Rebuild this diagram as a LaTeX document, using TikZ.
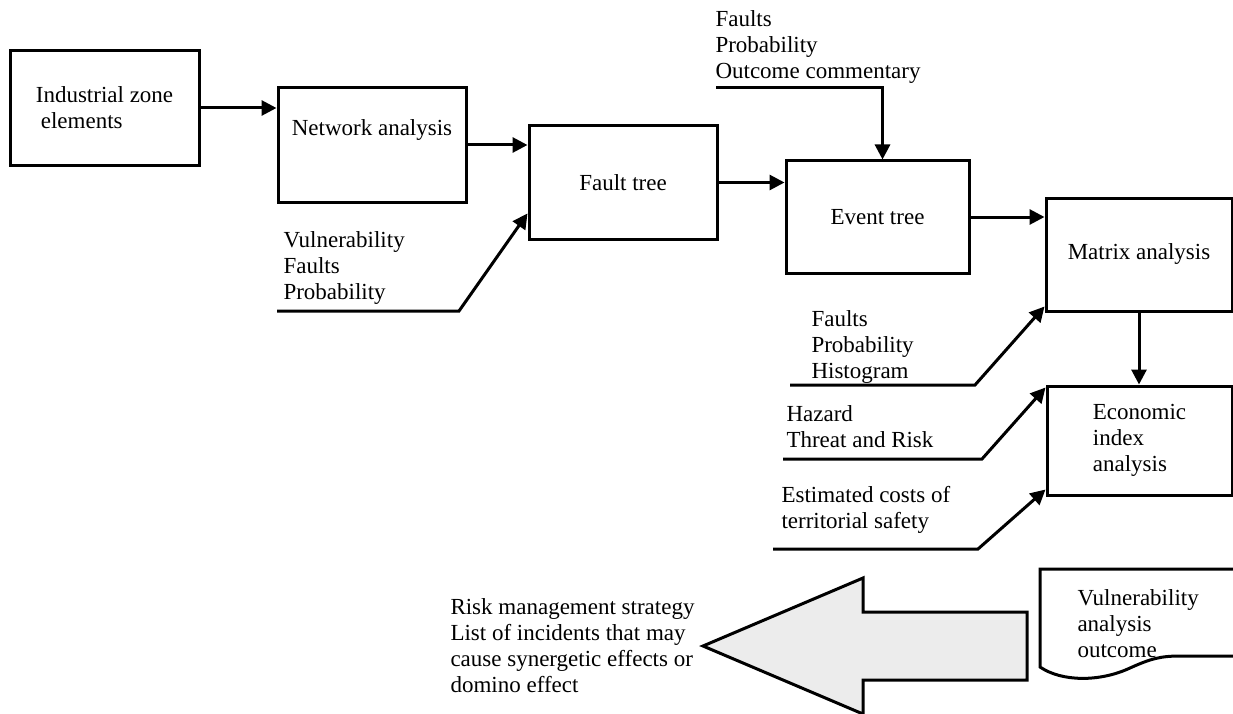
\documentclass[tikz,border=0pt]{standalone}
\usepackage{fontspec}
\setmainfont{Liberation Serif}
\usetikzlibrary{arrows.meta,positioning,calc}

\begin{document}
\begin{tikzpicture}[x=1pt, y=-1pt, ->, >={Triangle[length=15pt,width=15pt]}, line width=3pt,
                    font=\fontsize{23}{26}\selectfont]
\tikzstyle{box}=[draw=black, fill=white, inner sep=0pt]
\tikzstyle{txt}=[align=left, inner sep=0pt, anchor=west]
\useasboundingbox (0,0) rectangle (1233,714);

% main chain
\node[box, minimum width=189pt, minimum height=115pt, align=left] (ind)    at (104.5,108) {Industrial zone\\\hspace*{5pt}elements};
\node[box, minimum width=188pt, minimum height=114pt,
      label={[anchor=center, yshift=-44pt]north:Network analysis}] (net) at (372,145) {};
\node[box, minimum width=188pt, minimum height=113pt] (fault)  at (623,182.5)  {Fault tree};
\node[box, minimum width=183pt, minimum height=112pt] (event)  at (877.5,217)  {Event tree};
\node[box, minimum width=186pt, minimum height=113pt] (matrix) at (1139,254.5) {Matrix analysis};
\node[box, minimum width=185pt, minimum height=109pt, align=left] (econ) at (1139.5,440.5) {Economic\\index\\analysis};
\path
(ind.east)    edge (ind.east -| net.west)
(net.east)    edge (net.east -| fault.west)
(fault.east)  edge (fault.east -| event.west)
(event.east)  edge (event.east -| matrix.west)
(matrix.south) edge (matrix.south |- econ.north);

% inputs
\node[txt] (outc) at (714,47) {Faults\\Probability\\Outcome commentary};
\coordinate (o0) at (716,88);
\draw (o0) -| ([xshift=5pt]event.north);

\node[txt] (vfp) at (282,268) {Vulnerability\\Faults\\Probability};
\coordinate (v0) at (277,311);
\coordinate (v1) at (459,311);
\draw (v0) -- (v1) -- ([yshift=-31pt]fault.west);

\node[txt] (fph) at (810,347) {Faults\\Probability\\Histogram};
\coordinate (f0) at (790,385);
\coordinate (f1) at (975,385);
\draw (f0) -- (f1) -- ([yshift=6pt]matrix.south west);

\node[txt] (htr) at (785,427) {Hazard\\Threat and Risk};
\coordinate (h0) at (783,459);
\coordinate (h1) at (982,459);
\draw (h0) -- (h1) -- ([yshift=-3pt]econ.north west);

\node[txt] (est) at (780,510) {Estimated costs of\\territorial safety};
\coordinate (e0) at (773,549);
\coordinate (e1) at (978,549);
\draw (e0) -- (e1) -- ([yshift=7pt]econ.south west);

% output
\draw[-, fill=gray!15] (703,646) -- (863,578) -- (863,612) -- (1027,612) -- (1027,680)
      -- (863,680) -- (863,714) -- cycle;
\node[txt] (risk) at (449,646) {Risk management strategy\\List of incidents that may\\cause synergetic effects or\\domino effect};

\draw[-] (1240,569) -- (1040,569) -- (1040,667) .. controls (1062,682) and (1100,682) .. (1130,668)
      .. controls (1150,659) and (1160,656) .. (1180,656) -- (1240,656);
\node[txt] (vao) at (1076,624) {Vulnerability\\analysis\\outcome};
\end{tikzpicture}
\end{document}
